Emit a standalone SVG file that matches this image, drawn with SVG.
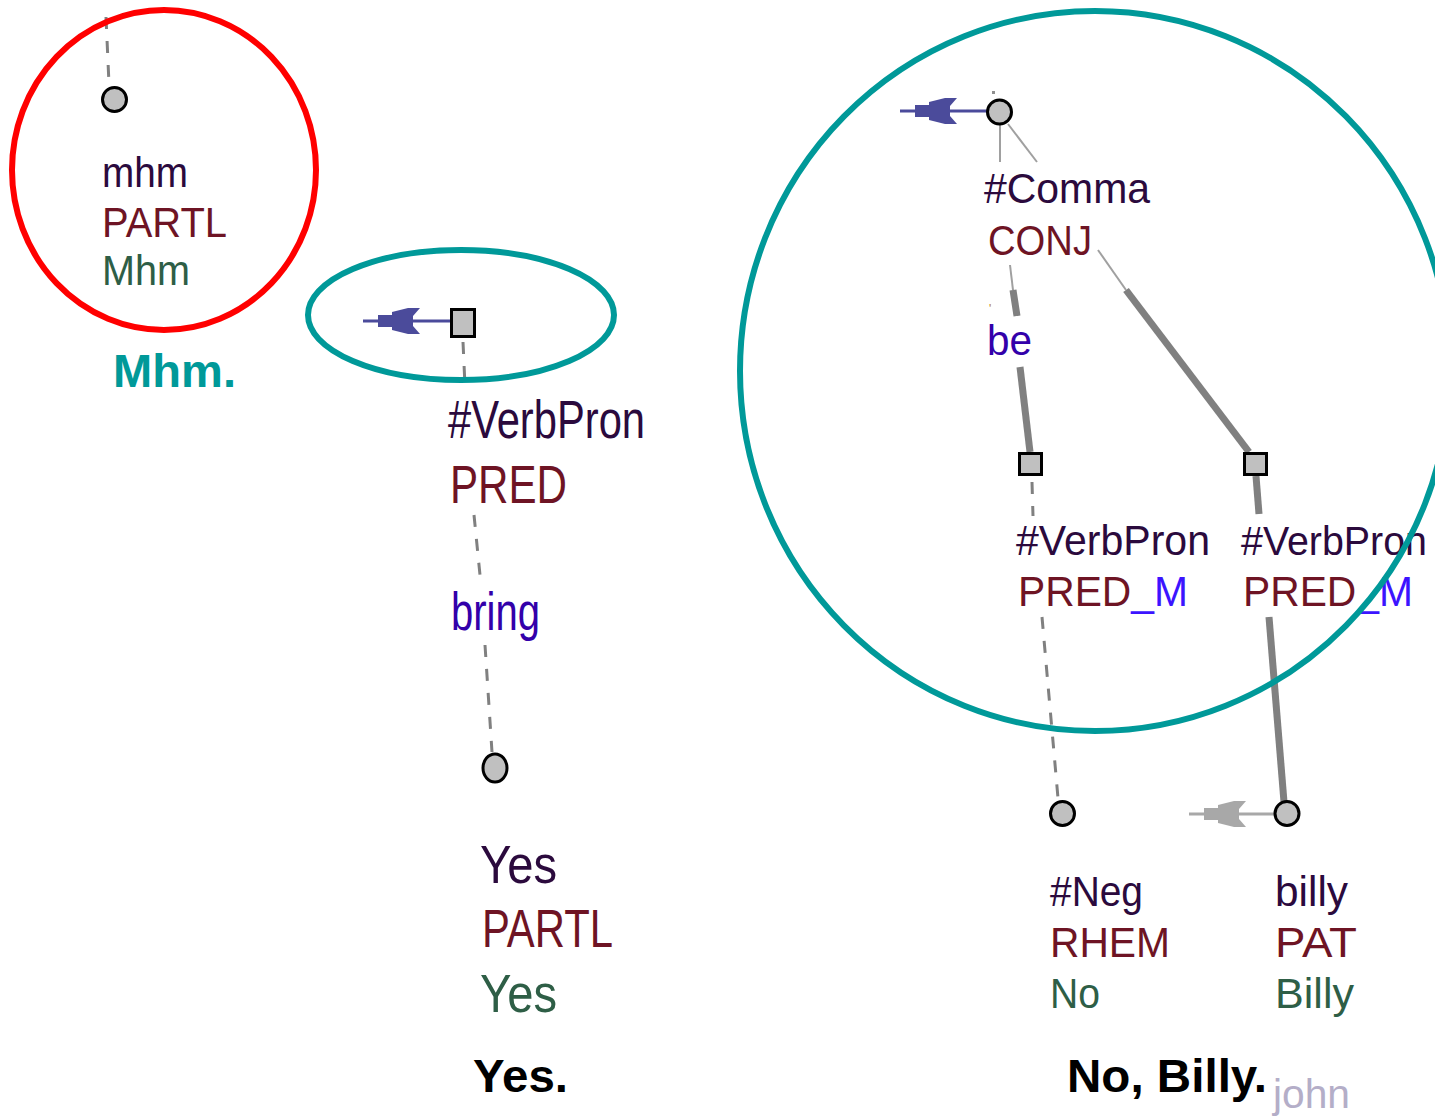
<svg xmlns="http://www.w3.org/2000/svg" width="1435" height="1117" viewBox="0 0 1435 1117">
<defs>
<style>
text{font-family:"Liberation Sans",Arial,sans-serif}
.t1{font-size:42px}
.t2{font-size:54px}
.lem{fill:#2b0a3d}
.fun{fill:#6e1424}
.frm{fill:#2e5e46}
.blu{fill:#3300aa}
.m{fill:#3c14ff}
.nd{fill:#c0c0c0;stroke:#000;stroke-width:3}
.dash{stroke:#808080;stroke-width:3;stroke-dasharray:12 12;fill:none}
.thin{stroke:#a0a0a0;stroke-width:2;fill:none}
.thick{stroke:#808080;stroke-width:7;fill:none}
.ann{fill:none;stroke-width:6}
.lbl{font-weight:bold;font-size:47px}
</style>
<g id="arr">
<line x1="-87" y1="0" x2="0" y2="0" stroke-width="3"/>
<polygon stroke="none" points="-72,-6 -58,-6 -58,-9 -42,-13 -30,-13 -37,-5 -37,5 -30,13 -42,13 -58,9 -58,6 -72,6"/>
</g>
</defs>
<rect width="1435" height="1117" fill="#fff"/>

<g id="connectors">
<line class="dash" x1="106" y1="17" x2="109" y2="84"/>
<use href="#arr" transform="translate(450,321)" fill="#4b4b9b" stroke="#4b4b9b"/>
<line class="dash" x1="463" y1="342" x2="465" y2="386"/>
<line class="dash" x1="474" y1="515" x2="480" y2="575"/>
<line class="dash" x1="485" y1="645" x2="492" y2="752"/>
<use href="#arr" transform="translate(987,111)" fill="#4b4b9b" stroke="#4b4b9b"/>
<rect x="992" y="91" width="3" height="3" fill="#909090"/>
<line class="thin" x1="1000" y1="124" x2="1000" y2="162"/>
<line class="thin" x1="1008" y1="124" x2="1037" y2="162"/>
<line class="thin" x1="1010" y1="265" x2="1013" y2="290"/>
<line class="thick" x1="1013" y1="290" x2="1017" y2="316"/>
<line class="thick" x1="1020" y1="367" x2="1030" y2="452"/>
<line class="thin" x1="1098" y1="250" x2="1126" y2="290"/>
<line class="thick" x1="1126" y1="290" x2="1249" y2="452"/>
<line class="dash" x1="1032" y1="482" x2="1033" y2="516"/>
<line class="dash" x1="1042" y1="617" x2="1058" y2="798"/>
<line class="thick" x1="1256" y1="476" x2="1259" y2="514" stroke-width="5"/>
<line class="thick" x1="1269" y1="617" x2="1284" y2="802"/>
<use href="#arr" transform="translate(1276,814)" fill="#a8a8a8" stroke="#a8a8a8"/>
</g>

<g id="n-mhm">
<ellipse class="nd" cx="114.5" cy="99.5" rx="12" ry="12"/>
<text class="t1 lem" x="102" y="187" textLength="86" lengthAdjust="spacingAndGlyphs">mhm</text>
<text class="t1 fun" x="102" y="237" textLength="125" lengthAdjust="spacingAndGlyphs">PARTL</text>
<text class="t1 frm" x="102" y="285" textLength="88" lengthAdjust="spacingAndGlyphs">Mhm</text>
</g>

<g id="n-verbpron-yes">
<rect class="nd" x="451.5" y="309.5" width="23" height="27"/>
<text class="t2 lem" x="448" y="438" textLength="197" lengthAdjust="spacingAndGlyphs">#VerbPron</text>
<text class="t2 fun" x="450" y="503" textLength="117" lengthAdjust="spacingAndGlyphs">PRED</text>
<text class="t2 blu" x="451" y="630" textLength="89" lengthAdjust="spacingAndGlyphs">bring</text>
</g>

<g id="n-yes">
<ellipse class="nd" cx="495" cy="768" rx="12" ry="14"/>
<text class="t2 lem" x="480" y="883" textLength="77" lengthAdjust="spacingAndGlyphs">Yes</text>
<text class="t2 fun" x="482" y="947" textLength="131" lengthAdjust="spacingAndGlyphs">PARTL</text>
<text class="t2 frm" x="480" y="1012" textLength="77" lengthAdjust="spacingAndGlyphs">Yes</text>
</g>

<g id="n-comma">
<ellipse class="nd" cx="999.5" cy="112" rx="12" ry="12"/>
<text class="t1 lem" x="984" y="203" textLength="166" lengthAdjust="spacingAndGlyphs">#Comma</text>
<text class="t1 fun" x="988" y="255" textLength="104" lengthAdjust="spacingAndGlyphs">CONJ</text>
<text x="989" y="313" font-size="12" fill="#b08030">'</text>
<text class="t1 blu" x="987" y="355" textLength="45" lengthAdjust="spacingAndGlyphs">be</text>
</g>

<g id="n-verbpron1">
<rect class="nd" x="1019.5" y="453.5" width="22" height="21"/>
<text class="t1 lem" x="1016" y="555" textLength="194" lengthAdjust="spacingAndGlyphs">#VerbPron</text>
<text class="t1 fun" x="1018" y="606" textLength="170" lengthAdjust="spacingAndGlyphs">PRED<tspan class="m">_M</tspan></text>
</g>

<g id="n-verbpron2">
<rect class="nd" x="1244.5" y="453.5" width="22" height="21"/>
<text class="lem" x="1241" y="555" font-size="40" textLength="186" lengthAdjust="spacingAndGlyphs">#VerbPron</text>
<text class="t1 fun" x="1243" y="606" textLength="170" lengthAdjust="spacingAndGlyphs">PRED<tspan class="m">_M</tspan></text>
</g>

<g id="n-neg">
<ellipse class="nd" cx="1062.5" cy="813.5" rx="12" ry="12"/>
<text class="t1 lem" x="1050" y="906" textLength="93" lengthAdjust="spacingAndGlyphs">#Neg</text>
<text class="t1 fun" x="1050" y="957" textLength="120" lengthAdjust="spacingAndGlyphs">RHEM</text>
<text class="t1 frm" x="1050" y="1008" textLength="50" lengthAdjust="spacingAndGlyphs">No</text>
</g>

<g id="n-billy">
<ellipse class="nd" cx="1287" cy="813.5" rx="12" ry="12"/>
<text class="t1 lem" x="1275" y="906" textLength="73" lengthAdjust="spacingAndGlyphs">billy</text>
<text class="t1 fun" x="1275" y="957" textLength="82" lengthAdjust="spacingAndGlyphs">PAT</text>
<text class="t1 frm" x="1275" y="1008" textLength="79" lengthAdjust="spacingAndGlyphs">Billy</text>
</g>

<g id="annotations">
<ellipse class="ann" cx="164" cy="170" rx="152" ry="160" stroke="#ff0000"/>
<ellipse class="ann" cx="461" cy="315" rx="153" ry="65" stroke="#009999"/>
<ellipse class="ann" cx="1095" cy="371" rx="355" ry="360" stroke="#009999"/>
<text class="lbl" x="113" y="387" fill="#009999" textLength="123" lengthAdjust="spacingAndGlyphs">Mhm.</text>
<text class="lbl" x="473" y="1092" fill="#000" textLength="95" lengthAdjust="spacingAndGlyphs">Yes.</text>
<text class="lbl" x="1067" y="1092" fill="#000" textLength="200" lengthAdjust="spacingAndGlyphs">No, Billy.</text>
<text x="1273" y="1108" font-size="40" fill="#b4aec8" textLength="77" lengthAdjust="spacingAndGlyphs">john</text>
</g>
</svg>
